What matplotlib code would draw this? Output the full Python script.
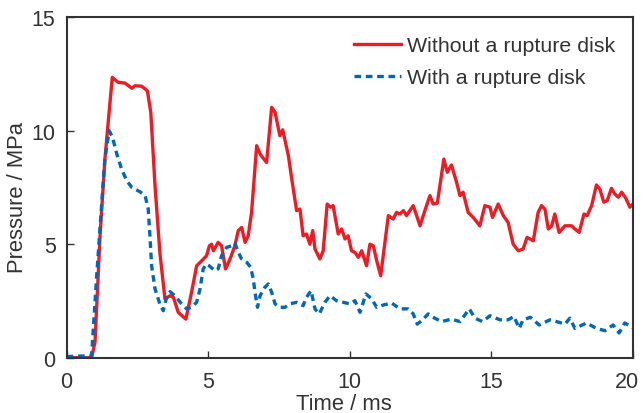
import matplotlib
matplotlib.use("Agg")
import matplotlib.pyplot as plt
from matplotlib.transforms import ScaledTranslation

plt.rcParams['font.family'] = ['Liberation Sans', 'DejaVu Sans']

# Without a rupture disk (time ms, pressure MPa)
t_red = [0, 0.88, 1.0, 1.18, 1.35, 1.61, 1.82, 2.06, 2.3, 2.41, 2.65, 2.85,
         2.97, 3.12, 3.29, 3.47, 3.65, 3.77, 3.94, 4.21, 4.41, 4.59, 4.77, 4.94,
         5.04, 5.12, 5.18, 5.35, 5.47, 5.61, 5.77, 5.94, 6.06, 6.18, 6.3, 6.41,
         6.53, 6.71, 6.83, 7.06, 7.24, 7.36, 7.53, 7.63, 7.83, 7.94, 8.12, 8.24,
         8.35, 8.47, 8.59, 8.69, 8.77, 8.94, 9.06, 9.2, 9.32, 9.41, 9.59, 9.71,
         9.83, 9.94, 10.06, 10.18, 10.3, 10.42, 10.59, 10.71, 10.83, 10.95, 11.09,
         11.18, 11.36, 11.53, 11.65, 11.77, 11.89, 12.0, 12.24, 12.48, 12.65,
         12.83, 12.94, 13.09, 13.32, 13.44, 13.59, 13.77, 13.89, 14.0, 14.18,
         14.36, 14.59, 14.77, 14.95, 15.04, 15.24, 15.42, 15.59, 15.77, 15.95,
         16.12, 16.26, 16.48, 16.65, 16.77, 16.89, 17.01, 17.13, 17.24, 17.39,
         17.6, 17.83, 17.95, 18.1, 18.27, 18.38, 18.54, 18.71, 18.83, 18.97,
         19.09, 19.24, 19.36, 19.48, 19.6, 19.75, 19.89, 20.0]
p_red = [0, 0, 0.68, 5.4, 8.75, 12.35, 12.13, 12.1, 11.87, 11.98, 11.96, 11.76,
         10.81, 7.58, 4.64, 2.59, 2.73, 2.66, 2.0, 1.7, 2.88, 4.05, 4.27, 4.49,
         4.93, 5.0, 4.71, 5.08, 4.93, 3.91, 4.35, 4.93, 5.6, 5.74, 5.08, 5.37,
         6.4, 9.34, 8.97, 8.6, 11.03, 10.81, 9.78, 10.04, 8.9, 7.95, 6.48, 6.55,
         5.37, 5.45, 5.0, 5.6, 4.79, 4.35, 4.71, 6.77, 6.63, 6.7, 5.45, 5.67,
         5.23, 5.37, 4.71, 4.64, 4.42, 4.71, 4.05, 5.0, 4.93, 4.27, 3.61,
         4.49, 6.26, 6.11, 6.4, 6.33, 6.48, 6.26, 6.7, 5.81, 6.48,
         7.14, 6.77, 6.81, 8.75, 8.17, 8.49, 7.73, 7.14, 7.29, 6.4,
         6.18, 5.81, 6.7, 6.63, 6.18, 6.77, 6.26, 5.96, 5.0, 4.71,
         4.79, 5.3, 5.15, 6.4, 6.7, 6.55, 5.67, 5.81, 6.33, 5.52,
         5.81, 5.81, 5.67, 5.52, 6.33, 6.26, 6.7, 7.61, 7.43, 6.85,
         6.92, 7.46, 7.21, 7.07, 7.29, 7.02, 6.63, 6.77]

# With a rupture disk
t_blue = [0, 0.88, 1.06, 1.24, 1.35, 1.5, 1.62, 1.77, 1.94, 2.12, 2.3, 2.59,
          2.77, 2.88, 2.94, 3.0, 3.12, 3.29, 3.41, 3.53, 3.65, 3.82, 4.06, 4.24,
          4.41, 4.59, 4.71, 4.82, 4.94, 5.0, 5.24, 5.35, 5.47, 5.65, 5.83, 5.94,
          6.06, 6.18, 6.36, 6.5, 6.59, 6.65, 6.74, 6.83, 7.0, 7.12, 7.24, 7.36,
          7.53, 7.71, 7.88, 8.12, 8.35, 8.47, 8.63, 8.77, 8.92, 9.12, 9.3, 9.53,
          9.77, 10.0, 10.18, 10.36, 10.57, 10.77, 10.95, 11.18, 11.48, 11.77,
          12.06, 12.24, 12.38, 12.54, 12.77, 13.0, 13.24, 13.59, 13.89, 14.22,
          14.42, 14.69, 14.95, 15.3, 15.59, 15.8, 15.98, 16.12, 16.38, 16.69,
          17.07, 17.39, 17.6, 17.77, 17.95, 18.36, 18.71, 19.01, 19.3, 19.51,
          19.71, 20.0]
p_blue = [0.05, 0.09, 3.6, 6.85, 8.75, 10.0, 9.71, 8.97, 8.31, 7.8, 7.5, 7.31,
          7.14, 6.55, 5.37, 4.05, 3.03, 2.37, 2.07, 2.66, 2.91, 2.73, 2.37, 2.15,
          2.22, 2.44, 3.03, 3.91, 4.13, 4.08, 3.83, 3.91, 4.49, 4.86, 4.93, 5.05,
          4.64, 4.35, 4.2, 3.98, 3.47, 2.88, 2.22, 2.73, 3.1, 3.25, 2.88, 2.37,
          2.22, 2.22, 2.37, 2.44, 2.29, 2.66, 2.95, 2.15, 1.93, 2.44, 2.73, 2.51,
          2.44, 2.37, 2.51, 2.0, 2.81, 2.59, 2.22, 2.32, 2.41, 2.15,
          2.15, 1.93, 1.48, 1.63, 1.93, 1.74, 1.59, 1.7, 1.59, 2.15,
          1.74, 1.59, 1.85, 1.67, 1.67, 1.82, 1.29, 1.67, 1.78, 1.44,
          1.67, 1.56, 1.48, 1.74, 1.29, 1.53, 1.29, 1.19, 1.44, 1.09,
          1.53, 1.32]

x_ticks = [0, 5, 10, 15, 20]
y_ticks = [0, 5, 10, 15]

RED = '#ED1C24'
BLUE = '#0068B7'
DARK = '#333333'

fig = plt.figure(figsize=(6.43, 4.14), dpi=100)
ax = fig.add_axes([0.1037, 0.1336, 0.8807, 0.8224])

ax.plot(t_red, p_red, color=RED, lw=2.4, label='Without a rupture disk')
ax.plot(t_blue, p_blue, color=BLUE, lw=2.4, ls=(0, (2.0, 1.4)), label='With a rupture disk')

ax.set_xlim(0, 20)
ax.set_ylim(0, 15)
ax.set_xticks(x_ticks)
ax.set_yticks(y_ticks)
ax.tick_params(direction='in', length=5, width=1, colors=DARK, labelsize=15.5,
               top=False, right=False, labelcolor=DARK)
ax.tick_params(axis='x', pad=9.5)
ax.tick_params(axis='y', pad=8)
for s in ax.spines.values():
    s.set_linewidth(1.5)
    s.set_color(DARK)

# last x label sits a little left, as in the original
fig.canvas.draw()
lbl = ax.get_xticklabels()[-1]
lbl.set_transform(lbl.get_transform() + ScaledTranslation(-6 / 100, 0, fig.dpi_scale_trans))

ax.set_xlabel('Time / ms', fontsize=15.8, color=DARK)
ax.xaxis.set_label_coords(0.49, -0.103)
ax.set_ylabel('Pressure / MPa', fontsize=15.8, color=DARK)
ax.yaxis.set_label_coords(-0.068, 0.473)

leg = ax.legend(loc='upper right', bbox_to_anchor=(0.968, 0.944), frameon=False,
                fontsize=15.4, handlelength=2.2, handletextpad=0.25, labelspacing=0.6,
                borderpad=0, borderaxespad=0)
for txt in leg.get_texts():
    txt.set_color(DARK)

fig.savefig('out.png', dpi=100)
